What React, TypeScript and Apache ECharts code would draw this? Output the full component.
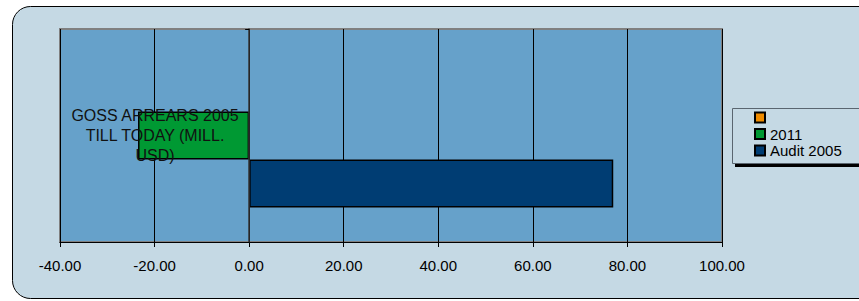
import React, { useEffect, useRef } from "react";
import * as echarts from "echarts";

const categories = ["GOSS ARREARS 2005\nTILL TODAY (MILL.\nUSD)"];
const seriesNames = [" ", "2011", "Audit 2005"];
const seriesColors = ["#F08C00", "#009933", "#003D73"];
const seriesValues: (number | null)[][] = [[null], [-23.5], [77.0]];
const xMin = -40;
const xMax = 100;
const xInterval = 20;

const FONT = "Liberation Sans, Arial, sans-serif";

export default function App() {
  const ref = useRef<HTMLDivElement>(null);
  useEffect(() => {
    if (!ref.current) return;
    const chart = echarts.init(ref.current, undefined, { renderer: "svg" });
    chart.setOption({
      animation: false,
      textStyle: { fontFamily: FONT },
      graphic: [
        {
          type: "rect",
          z: -100,
          shape: { x: 12.5, y: 6.5, width: 880, height: 292, r: 18 },
          style: { fill: "#C5D9E4", stroke: "#000", lineWidth: 1 },
        },
        {
          type: "rect",
          z: -99,
          shape: { x: 735, y: 112, width: 160, height: 55 },
          style: { fill: "#000" },
        },
        {
          type: "rect",
          z: -98,
          shape: { x: 732.5, y: 108.5, width: 160, height: 55 },
          style: { fill: "#C5D9E4", stroke: "#5A6670", lineWidth: 1 },
        },
      ],
      grid: {
        left: 60,
        right: 137,
        top: 29,
        bottom: 59,
        containLabel: false,
        outerBoundsMode: "none",
        show: true,
        backgroundColor: "#66A1CA",
        borderColor: "#808080",
        borderWidth: 2,
      },
      legend: {
        orient: "vertical",
        left: 754,
        top: 110,
        padding: 0,
        itemWidth: 10,
        itemHeight: 10,
        itemGap: 1.5,
        icon: "rect",
        textStyle: { fontSize: 15, color: "#000", fontFamily: FONT },
        data: seriesNames,
      },
      xAxis: {
        type: "value",
        min: xMin,
        max: xMax,
        interval: xInterval,
        axisLine: { show: true, lineStyle: { color: "#000", width: 1 } },
        axisTick: { show: true, length: 5, lineStyle: { color: "#000" } },
        axisLabel: {
          fontSize: 15,
          color: "#000",
          margin: 16,
          formatter: (v: number) => v.toFixed(2),
        },
        splitLine: { show: true, lineStyle: { color: "#000", width: 1 } },
      },
      yAxis: {
        type: "category",
        data: categories,
        z: 10,
        axisLine: { show: true, onZero: true, lineStyle: { color: "#333", width: 1.5 } },
        axisTick: { show: true, length: 4, lineStyle: { color: "#000" } },
        axisLabel: {
          fontSize: 16,
          color: "#111",
          align: "center",
          margin: -95,
          lineHeight: 20,
        },
      },
      series: seriesNames.map((name, i) => ({
        name,
        type: "bar",
        data: seriesValues[i],
        barWidth: 48,
        barGap: "0%",
        itemStyle: { color: seriesColors[i], borderColor: "#000", borderWidth: 1.5 },
      })),
    });
    return () => chart.dispose();
  }, []);
  return (
    <div
      ref={ref}
      style={{ position: "fixed", left: 0, top: 0, width: 859, height: 301, background: "#fff" }}
    />
  );
}
